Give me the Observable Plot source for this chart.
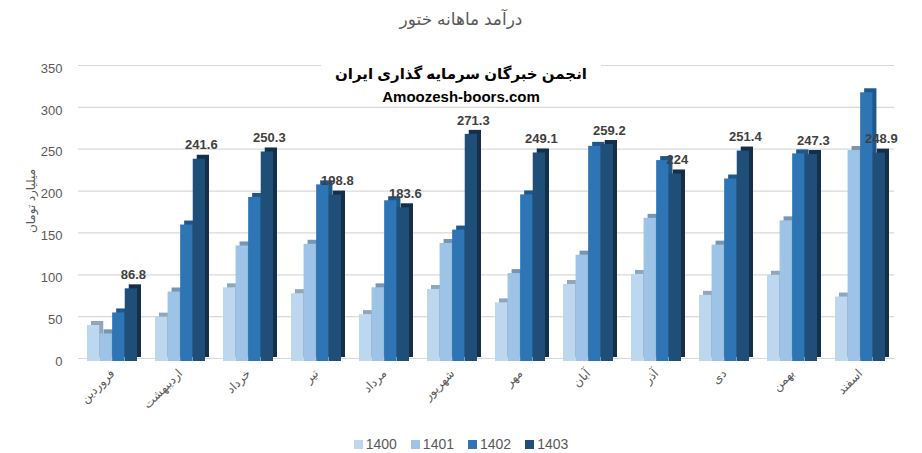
<!DOCTYPE html>
<html>
<head>
<meta charset="utf-8">
<script src="https://cdn.jsdelivr.net/npm/d3@7"></script>
<script src="https://cdn.jsdelivr.net/npm/@observablehq/plot@0.6"></script>
<style>
  body { margin: 0; background: #fff; font-family: "Liberation Sans", "DejaVu Sans", sans-serif; }
  #wrap { position: relative; width: 922px; height: 453px; overflow: hidden; }
  #title { height: 40px; line-height: 40px; text-align: center; font-size: 17px; color: #595959; }
  #legend { display: flex; justify-content: center; gap: 14px; padding-top: 6px; font-size: 14px; color: #595959; line-height: 20px; }
  #legend .it { display: flex; align-items: center; gap: 3px; }
  #legend .sw { width: 9px; height: 9px; display: inline-block; }
  #wm { position: absolute; left: 321px; top: 62px; width: 280px; height: 44px; background: #fff; text-align: center; font-weight: bold; color: #000; font-size: 15px; line-height: 23px; white-space: nowrap; }
  #ylab { position: absolute; left: 31px; top: 201px; transform: translate(-50%, -50%) rotate(-90deg); font-size: 12px; color: #595959; white-space: nowrap; }
</style>
</head>
<body>
<div id="wrap">
  <div id="title">درآمد ماهانه ختور</div>
  <div id="chart"></div>
  <div id="legend"></div>
  <div id="wm"><div>انجمن خبرگان سرمایه گذاری ایران</div><div>Amoozesh-boors.com</div></div>
  <div id="ylab">میلیارد تومان</div>
</div>
<script>
const months = ["فروردین","اردیبهشت","خرداد","تیر","مرداد","شهریور","مهر","آبان","آذر","دی","بهمن","اسفند"];
const years = ["1400","1401","1402","1403"];
const v1400 = [43, 53, 88, 81, 56, 86, 70, 92, 104, 79, 103, 77];
const v1401 = [33, 83, 138, 140, 88, 141, 105, 127, 171, 139, 168, 252];
const v1402 = [58, 163, 196, 211, 192, 157, 199, 257, 240, 218, 248, 321];
const v1403 = [86.8, 241.6, 250.3, 198.8, 183.6, 271.3, 249.1, 259.2, 224, 251.4, 247.3, 248.9];
const yTicks = [0, 50, 100, 150, 200, 250, 300, 350];
const frontColors = ["#BDD7EE", "#9DC3E6", "#2E75B6", "#1F4E79"];
const sideColors = ["#8FA6BD", "#7695B3", "#20578A", "#142F4A"];

const series = [v1400, v1401, v1402, v1403];
const data = months.flatMap((m, i) => years.map((y, j) => ({month: m, year: y, value: series[j][i]})));

// layout of one group: band width split into four adjacent bars
const W = 922, ML = 78, MR = 28, PI = 0.26, PO = 0.13;
const step = (W - ML - MR) / (months.length - PI + 2 * PO);
const bw = step * (1 - PI);
const q = bw / 4;

const barMarks = years.flatMap((y, j) => {
  const d = data.filter(r => r.year === y);
  const ins = {insetLeft: j * q, insetRight: (3 - j) * q};
  return [
    Plot.barY(d, {x: "month", y: "value", fill: sideColors[j], dx: 4, dy: -4, ...ins}),
    Plot.barY(d, {x: "month", y: "value", fill: "year", ...ins})
  ];
});

const chart = Plot.plot({
  width: W,
  height: 388,
  marginLeft: ML,
  marginRight: MR,
  marginTop: 28,
  marginBottom: 67,
  style: {fontFamily: "Liberation Sans, DejaVu Sans, sans-serif", background: "#fff"},
  x: {domain: months, paddingInner: PI, paddingOuter: PO, label: null},
  y: {domain: [0, 350], label: null},
  color: {domain: years, range: frontColors},
  marks: [
    Plot.ruleY(yTicks, {y: d => d, stroke: "#d9d9d9", strokeWidth: 1.2, dy: -3}),
    Plot.axisY({ticks: yTicks, tickSize: 0, tickPadding: 16, fontSize: 13, fill: "#595959", label: null}),
    Plot.axisX({tickRotate: -45, tickSize: 0, tickPadding: 10, fontSize: 12, fill: "#595959", label: null}),
    ...barMarks,
    Plot.text(data.filter(d => d.year === "1403"), {x: "month", y: "value", text: d => String(d.value), dy: -14, dx: 1.5 * q + 2, fontSize: 13, fontWeight: "bold", fill: "#404040"})
  ]
});
document.getElementById("chart").appendChild(chart);

const legend = document.getElementById("legend");
years.forEach((y, j) => {
  const it = document.createElement("div");
  it.className = "it";
  it.innerHTML = `<span class="sw" style="background:${frontColors[j]}"></span><span>${y}</span>`;
  legend.appendChild(it);
});
</script>
</body>
</html>
